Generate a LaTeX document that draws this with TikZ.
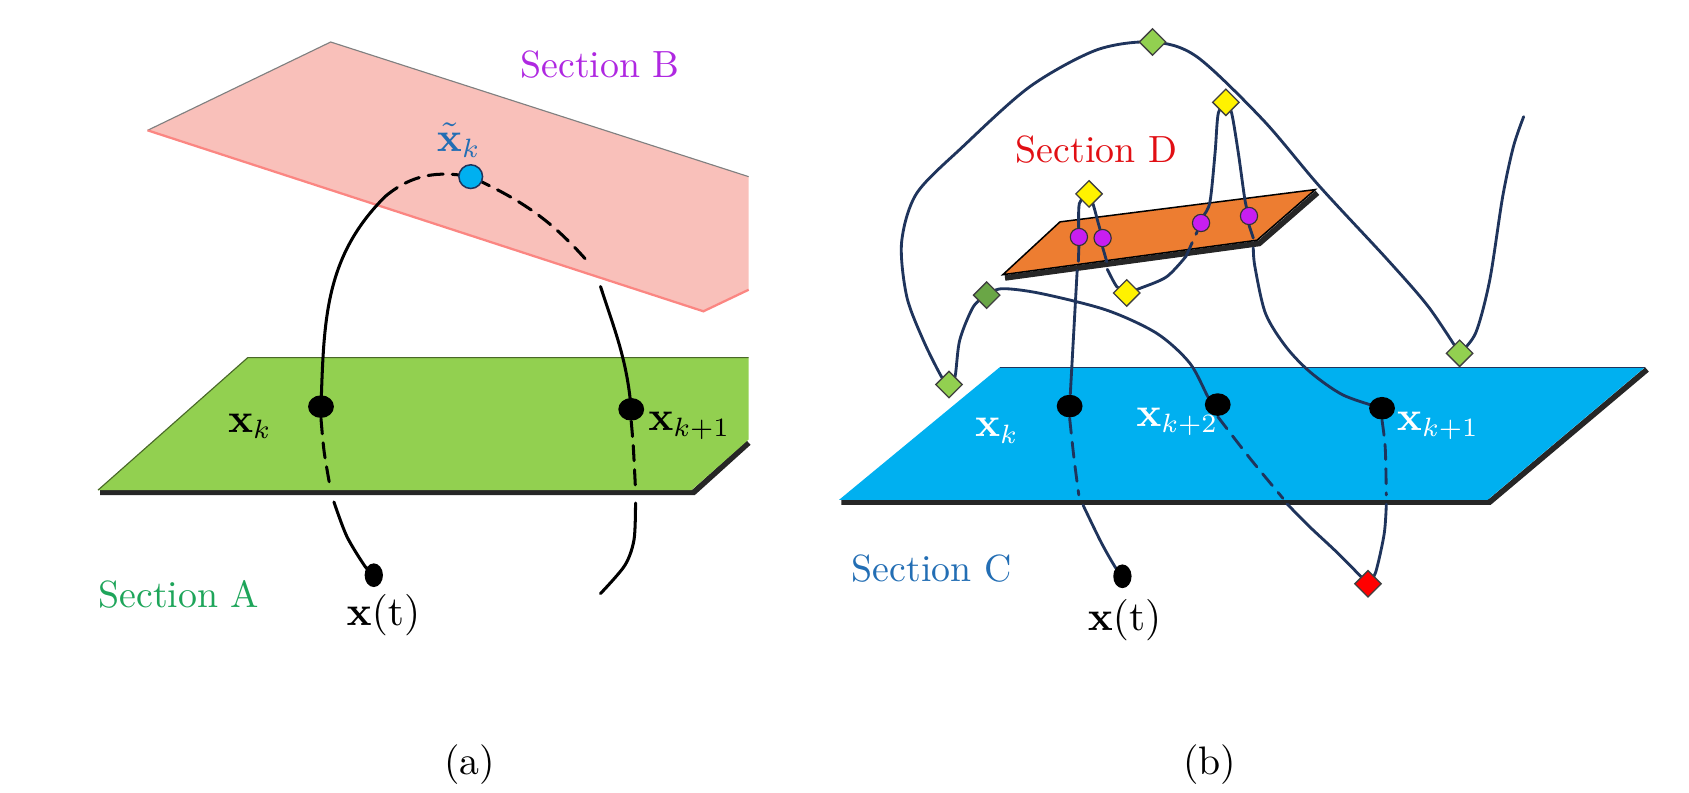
\documentclass[tikz,border=0pt]{standalone}
\usetikzlibrary{shapes.geometric}
\definecolor{planeA}{RGB}{146,208,80}
\definecolor{planeB}{RGB}{249,192,186}
\definecolor{planeC}{RGB}{0,176,240}
\definecolor{planeD}{RGB}{237,125,49}
\definecolor{textA}{RGB}{30,165,90}
\definecolor{textB}{RGB}{175,40,225}
\definecolor{textC}{RGB}{35,110,180}
\definecolor{textD}{RGB}{225,15,20}
\definecolor{navy}{RGB}{31,52,92}
\definecolor{leaf}{RGB}{146,208,80}
\definecolor{moss}{RGB}{106,166,70}
\definecolor{hitcol}{RGB}{200,30,240}
\pgfdeclarelayer{back}
\pgfdeclarelayer{mid}
\pgfsetlayers{back,mid,main}
\begin{document}
\begin{tikzpicture}[
		dot/.style={ellipse, fill=black, minimum width=0.24cm, minimum height=0.21cm, inner sep=0pt},
		tdot/.style={ellipse, fill=black, minimum width=0.17cm, minimum height=0.22cm, inner sep=0pt},
		hit/.style={circle, draw=black!80, fill=hitcol, minimum size=0.16cm, inner sep=0pt, line width=0.3pt},
		dia/.style={diamond, draw=black!75, line width=0.35pt, minimum size=0.25cm, inner sep=0pt},
		lbl/.style={font=\fontsize{10.5}{12}\selectfont, inner sep=0pt},
		sec/.style={font=\fontsize{10}{12}\selectfont, inner sep=0pt},
		panel/.style={font=\fontsize{10.5}{12}\selectfont, inner sep=0pt},
		traj/.style={line width=0.8pt, line cap=round},
		orb/.style={navy, line width=0.75pt, line cap=round},
		hid/.style={dash pattern=on 4pt off 2.4pt}
	]
	\useasboundingbox (0,0) rectangle (15.68,7.36);
	\begin{pgfonlayer}{back}
		\fill[planeB] (1.37,6.15) -- (3.07,6.97) -- (6.95,5.72) -- (6.95,4.67) -- (6.53,4.47) -- cycle;
		\draw[gray, line width=0.3pt] (1.37,6.15) -- (3.07,6.97) -- (6.95,5.72);
		\draw[planeB!70!red, line width=0.6pt] (1.37,6.15) -- (6.53,4.47) -- (6.95,4.67);
		\draw[black!85, line width=1.5pt] (0.93,2.79) -- (6.44,2.79) -- (6.95,3.25);
		\fill[planeA] (2.30,4.04) -- (6.95,4.04) -- (6.95,3.28) -- (6.42,2.81) -- (0.91,2.81) -- cycle;
		\draw[planeA!50!black, line width=0.3pt] (0.91,2.81) -- (2.30,4.04) -- (6.95,4.04);
		\draw[black!85, line width=1.5pt] (7.81,2.70) -- (13.83,2.70) -- (15.29,3.93);
		\fill[planeC] (9.28,3.95) -- (15.27,3.95) -- (13.81,2.72) -- (7.79,2.72) -- cycle;
		\draw[navy, line width=0.3pt] (9.28,3.95) -- (15.27,3.95);
		\draw[black!85, line width=1.5pt] (9.33,4.78) -- (11.69,5.10) -- (12.23,5.57);
		\fill[planeD, draw=black, line width=0.4pt] (9.31,4.81) -- (9.84,5.30) -- (12.21,5.60) -- (11.67,5.13) -- cycle;
	\end{pgfonlayer}
	\node[dot] (a1) at (2.98,3.585) {};
	\node[dot] (a2) at (5.86,3.56) {};
	\node[tdot] (a3) at (3.47,2.02) {};
	\node[circle, draw=navy, fill=planeC, minimum size=0.22cm, inner sep=0pt, line width=0.4pt] (a4) at (4.37,5.72) {};
	\node[lbl] (a5) at (2.32,3.40) {$\mathbf{x}_k$};
	\node[lbl] (a6) at (6.40,3.41) {$\mathbf{x}_{k+1}$};
	\node[lbl] (a7) at (3.56,1.65) {$\mathbf{x}(\mathrm{t})$};
	\node[lbl, text=textC] (a8) at (4.26,6.06) {$\tilde{\mathbf{x}}_k$};
	\node[sec, text=textB] (a9) at (5.57,6.76) {Section B};
	\node[sec, text=textA] (a10) at (1.66,1.84) {Section A};
	\node[panel] (a11) at (4.36,0.26) {(a)};
	\coordinate (c1) at (3.575,5.535);
	\coordinate (c2) at (5.47,4.915);
	\coordinate (c3) at (5.575,4.70);
	\coordinate (c4) at (3.07,2.81);
	\coordinate (c5) at (3.10,2.70);
	\coordinate (c6) at (5.90,2.81);
	\coordinate (c7) at (5.90,2.69);
	\coordinate (c8) at (5.575,1.85);
	\node[dia, fill=leaf] (b1) at (10.70,6.97) {};
	\node[dia, fill=yellow] (b2) at (11.38,6.41) {};
	\node[dia, fill=leaf] (b3) at (13.55,4.08) {};
	\node[dia, fill=yellow] (b4) at (10.11,5.56) {};
	\node[dia, fill=yellow] (b5) at (10.46,4.64) {};
	\node[dia, fill=moss] (b6) at (9.16,4.62) {};
	\node[dia, fill=leaf] (b7) at (8.81,3.79) {};
	\node[dia, fill=red] (b8) at (12.70,1.94) {};
	\node[dot] (b9) at (9.93,3.59) {};
	\node[dot] (b10) at (11.305,3.604) {};
	\node[dot] (b11) at (12.83,3.57) {};
	\node[tdot] (b12) at (10.42,2.01) {};
	\node[hit] (b13) at (10.016,5.16) {};
	\node[hit] (b14) at (10.236,5.15) {};
	\node[hit] (b15) at (11.15,5.29) {};
	\node[hit] (b16) at (11.595,5.355) {};
	\node[lbl, text=white] (b17) at (9.255,3.36) {$\mathbf{x}_k$};
	\node[lbl, text=white] (b18) at (10.93,3.44) {$\mathbf{x}_{k+2}$};
	\node[lbl, text=white] (b19) at (13.35,3.41) {$\mathbf{x}_{k+1}$};
	\node[lbl] (b20) at (10.44,1.60) {$\mathbf{x}(\mathrm{t})$};
	\node[sec, text=textC] (b21) at (8.65,2.085) {Section C};
	\node[sec, text=textD] (b22) at (10.18,5.97) {Section D};
	\node[panel] (b23) at (11.23,0.26) {(b)};
	\coordinate (e1) at (14.145,6.277);
	\coordinate (c9) at (11.91,2.734);
	\coordinate (c10) at (11.95,2.68);
	\coordinate (c11) at (12.87,2.765);
	\coordinate (c12) at (12.87,2.68);
	\coordinate (c13) at (10.015,2.765);
	\coordinate (c14) at (10.055,2.67);
	\coordinate (c15) at (10.01,4.91);
	\coordinate (c16) at (10.00,4.85);
	\coordinate (c17) at (10.275,4.93);
	\coordinate (c18) at (10.28,4.86);
	\coordinate (c19) at (11.01,4.98);
	\coordinate (c20) at (11.635,5.15);
	\coordinate (c21) at (11.635,5.06);
	\begin{pgfonlayer}{mid}
		\draw[traj] (a1.center) to[out=88, in=225] (c1);
		\draw[traj, hid] (c1) to[out=40, in=170] (a4.center) to[out=-25, in=131] (c2);
		\draw[traj] (c3) to[out=-72, in=95] (a2.center);
		\draw[traj, hid] plot[smooth] coordinates {(a1.south) (3.01,3.16) (c4)};
		\draw[traj] plot[smooth] coordinates {(c5) (3.22,2.38) (3.39,2.10) (a3)};
		\draw[traj, hid] plot[smooth] coordinates {(a2.south) (5.88,3.20) (c6)};
		\draw[traj] plot[smooth] coordinates {(c7) (5.886,2.35) (5.80,2.11) (c8)};
		\draw[orb] plot[smooth] coordinates {(b7) (8.74,3.863) (8.57,4.204) (8.417,4.61) (8.37,5.11) (8.51,5.565) (8.94,6.00) (9.56,6.555) (10.18,6.896) (b1) (11.11,6.834) (11.726,6.246) (12.25,5.63) (12.88,4.95) (13.26,4.513) (b3)};
		\draw[orb] plot[smooth] coordinates {(b3) (13.70,4.27) (13.83,4.76) (13.95,5.534) (14.05,6.00) (e1)};
		\draw[orb] plot[smooth] coordinates {(b7) (8.866,3.863) (8.91,4.204) (9.036,4.513) (b6)};
		\draw[orb] plot[smooth] coordinates {(b6) (9.30,4.68) (9.655,4.637) (10.27,4.482) (10.738,4.266) (11.047,3.987) (11.23,3.647) (b10)};
		\draw[orb, hid] plot[smooth] coordinates {(b10.south) (11.60,3.11) (c9)};
		\draw[orb] plot[smooth] coordinates {(c10) (12.165,2.463) (12.418,2.226) (b8)};
		\draw[orb, hid] plot[smooth] coordinates {(b11.south) (12.86,3.20) (c11)};
		\draw[orb] plot[smooth] coordinates {(c12) (12.85,2.403) (12.77,2.044) (b8)};
		\draw[orb, hid] plot[smooth] coordinates {(b9.south) (9.97,3.11) (c13)};
		\draw[orb] plot[smooth] coordinates {(c14) (10.22,2.33) (10.35,2.10) (b12)};
		\draw[orb] plot[smooth] coordinates {(b13) (10.02,5.47) (b4)};
		\draw[orb] plot[smooth] coordinates {(b4) (10.15,5.457) (10.196,5.287) (b14)};
		\draw[orb, hid] (b13.south) -- (c15);
		\draw[orb] (c16) -- (b9);
		\draw[orb, hid] (b14.south) -- (c17);
		\draw[orb] plot[smooth] coordinates {(c18) (10.367,4.70) (b5)};
		\draw[orb] plot[smooth] coordinates {(b5) (10.583,4.683) (10.83,4.79) (c19)};
		\draw[orb, hid] (c19) -- (b15);
		\draw[orb] plot[smooth] coordinates {(b15) (11.17,5.35) (11.233,5.488) (11.28,5.94) (11.31,6.31) (b2)};
		\draw[orb] plot[smooth] coordinates {(b2) (11.434,6.31) (11.496,5.94) (11.558,5.50) (b16)};
		\draw[orb, hid] (b16.south) -- (c20);
		\draw[orb] plot[smooth] coordinates {(c21) (11.65,4.884) (11.748,4.451) (11.937,4.142) (12.165,3.904) (12.468,3.693) (b11)};
	\end{pgfonlayer}
\end{tikzpicture}
\end{document}
